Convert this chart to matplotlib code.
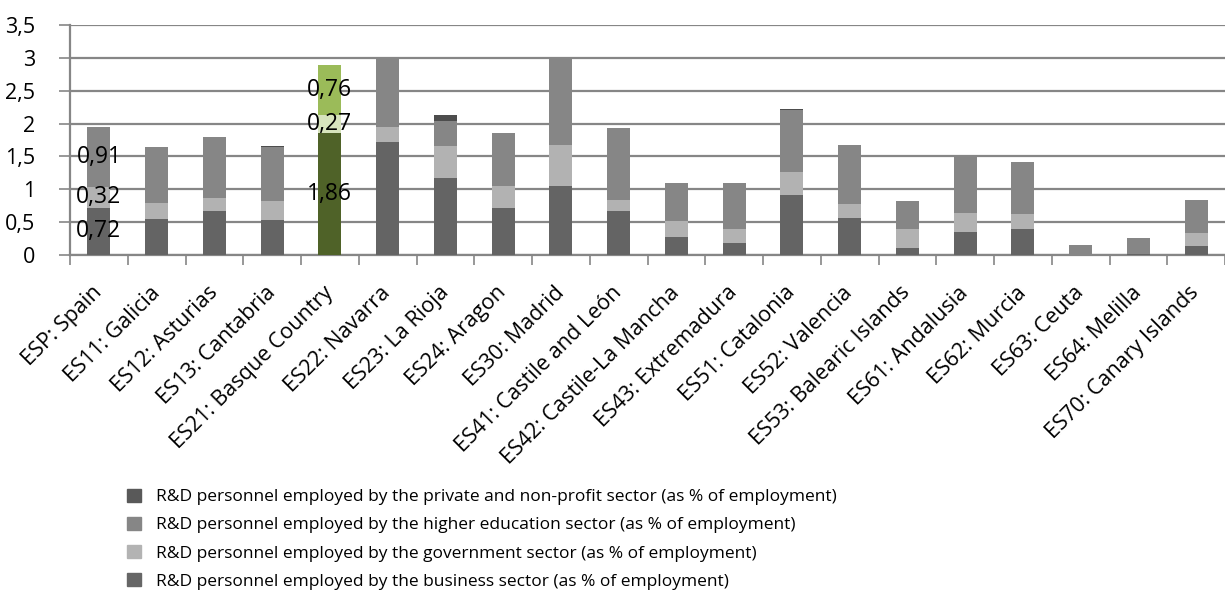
import numpy as np
import matplotlib
matplotlib.use("Agg")
import matplotlib.pyplot as plt
from matplotlib.patches import Patch

plt.rcParams['font.family'] = ['Open Sans', 'DejaVu Sans']

regions = ["ESP: Spain", "ES11: Galicia", "ES12: Asturias", "ES13: Cantabria",
           "ES21: Basque Country", "ES22: Navarra", "ES23: La Rioja", "ES24: Aragon",
           "ES30: Madrid", "ES41: Castile and León", "ES42: Castile-La Mancha",
           "ES43: Extremadura", "ES51: Catalonia", "ES52: Valencia",
           "ES53: Balearic Islands", "ES61: Andalusia", "ES62: Murcia",
           "ES63: Ceuta", "ES64: Melilla", "ES70: Canary Islands"]

business = [0.72, 0.55, 0.67, 0.53, 1.86, 1.72, 1.17, 0.71, 1.05, 0.67,
            0.28, 0.18, 0.91, 0.56, 0.10, 0.35, 0.40, 0.00, 0.015, 0.13]
government = [0.32, 0.24, 0.19, 0.29, 0.27, 0.23, 0.49, 0.34, 0.63, 0.17,
              0.23, 0.22, 0.36, 0.21, 0.29, 0.29, 0.22, 0.00, 0.00, 0.21]
higher_edu = [0.91, 0.85, 0.94, 0.82, 0.76, 1.05, 0.38, 0.80, 1.32, 1.09,
              0.59, 0.70, 0.94, 0.91, 0.43, 0.87, 0.80, 0.15, 0.245, 0.49]
private_np = [0.00, 0.00, 0.00, 0.02, 0.00, 0.00, 0.09, 0.00, 0.00, 0.00,
              0.00, 0.00, 0.01, 0.00, 0.00, 0.00, 0.00, 0.00, 0.00, 0.00]

labels = ["R&D personnel employed by the business sector (as % of employment)",
          "R&D personnel employed by the government sector (as % of employment)",
          "R&D personnel employed by the higher education sector (as % of employment)",
          "R&D personnel employed by the private and non-profit sector (as % of employment)"]

gray_cols = ["#646464", "#b2b2b2", "#868686", "#4d4d4d"]
green_cols = ["#4f6228", "#d7e4bd", "#9bbb59", "#3d4d1e"]
labelled = [0, 4]  # Spain and Basque Country carry value labels
highlight = 4

fig = plt.figure(figsize=(12.25, 6.03), dpi=100)
ax = fig.add_axes([70 / 1225, 1 - 255 / 603, 1155 / 1225, 230 / 603])

x = np.arange(len(regions))
series = [business, government, higher_edu, private_np]
bottom = np.zeros(len(regions))
for i, vals in enumerate(series):
    vals = np.array(vals)
    cols = [green_cols[i] if k == highlight else gray_cols[i] for k in range(len(regions))]
    ax.bar(x, vals, 0.4, bottom=bottom, color=cols, label=labels[i], zorder=3)
    for k in labelled:
        if vals[k] > 0:
            ax.text(x[k], bottom[k] + vals[k] / 2, f"{vals[k]:.2f}".replace(".", ","),
                    ha="center", va="center", fontsize=16.5, zorder=4)
    bottom += vals

ax.set_xlim(-0.5, len(regions) - 0.5)
ax.set_ylim(0, 3.5)
ax.set_yticks(np.arange(0, 3.51, 0.5))
ax.set_yticklabels(["0", "0,5", "1", "1,5", "2", "2,5", "3", "3,5"], fontsize=15.5)
ax.yaxis.grid(True, color="#868686", linewidth=1.6, zorder=0)
ax.tick_params(axis="y", length=8, color="#868686", width=1.2, pad=17)

ax.set_xticks(x)
ax.set_xticklabels(regions, rotation=45, ha="right", va="center",
                   rotation_mode="anchor", fontsize=15.5)
ax.set_xticks(np.arange(-0.5, len(regions), 1), minor=True)
ax.tick_params(axis="x", which="major", length=0, pad=25)
ax.tick_params(axis="x", which="minor", length=7, color="#868686", width=1.2)

for s in ["top", "right"]:
    ax.spines[s].set_visible(False)
for s in ["left", "bottom"]:
    ax.spines[s].set_color("#868686")
    ax.spines[s].set_linewidth(1.6)

h, l = ax.get_legend_handles_labels()
leg_cols = ["#666666", "#b3b3b3", "#868686", "#595959"]
handles = [Patch(color=leg_cols[i]) for i in range(4)][::-1]
fig.legend(handles, l[::-1], loc="upper left", bbox_to_anchor=(118 / 1225, 1 - 480 / 603),
           frameon=False, fontsize=12.5, handlelength=0.8, handleheight=0.8,
           labelspacing=0.66, handletextpad=0.9, borderpad=0)

fig.savefig("out.png", dpi=100)
